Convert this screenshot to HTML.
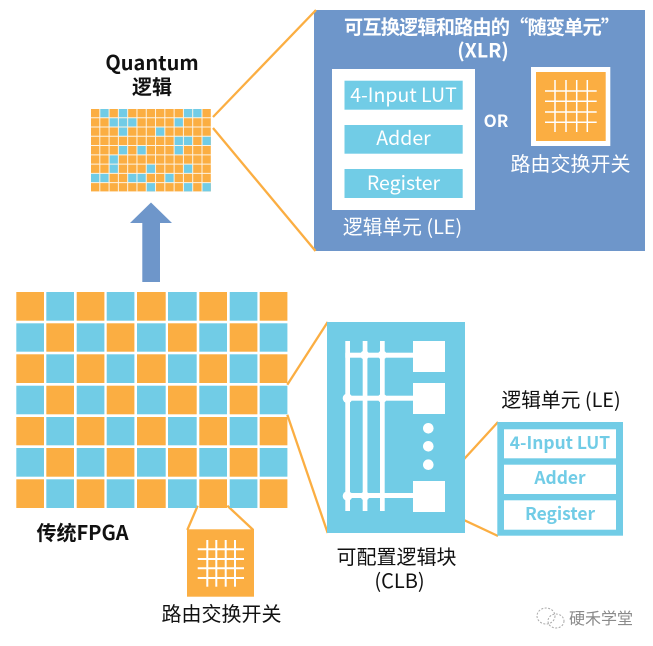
<!DOCTYPE html>
<html><head><meta charset="utf-8">
<style>
html,body{margin:0;padding:0;background:#fff;width:653px;height:646px;overflow:hidden}
svg{display:block}
text{font-family:"Noto Sans CJK SC","Liberation Sans",sans-serif;text-anchor:middle}
.b{font-weight:700}
</style></head><body>
<svg id="s" width="653" height="646" viewBox="0 0 653 646" xmlns="http://www.w3.org/2000/svg">
<rect width="653" height="646" fill="#fff"/>
<!-- arrow -->
<polygon points="151,202.500 172,223 160,223 160,282 142.300,282 142.300,223 130,223" fill="#6e96ca"/>
<!-- blue panel -->
<rect x="314" y="10" width="331" height="241" fill="#6e96ca"/>
<g stroke="#fbae42" stroke-width="2.300" fill="none">
<line x1="213" y1="117" x2="316" y2="10"/>
<line x1="213" y1="128" x2="315.500" y2="251"/>
<line x1="287.300" y1="384.700" x2="327.700" y2="322"/>
<line x1="287.300" y1="414.700" x2="327.700" y2="533"/>
<line x1="444" y1="481" x2="498" y2="422"/>
<line x1="444" y1="510.700" x2="498" y2="536"/>
<line x1="197.700" y1="505.700" x2="187.300" y2="530"/>
<line x1="227.300" y1="505.700" x2="253.300" y2="530"/>
</g>
<!-- quantum grid -->
<rect x="91" y="109" width="119.800" height="82.400" fill="#fbae42"/>
<g fill="#71cce6">
<rect x="99.800" y="109" width="9.300" height="8.800"/><rect x="118.400" y="109" width="9.300" height="8.800"/><rect x="183.400" y="109" width="9.300" height="8.800"/><rect x="192.700" y="109" width="9.300" height="8.800"/>
<rect x="109.100" y="117.800" width="9.300" height="9.300"/><rect x="118.400" y="117.800" width="9.300" height="9.300"/><rect x="127.700" y="117.800" width="9.300" height="9.300"/><rect x="174.100" y="117.800" width="9.300" height="9.300"/>
<rect x="118.400" y="127" width="9.300" height="9.300"/><rect x="155.500" y="127" width="9.300" height="9.300"/>
<rect x="174.100" y="136.300" width="9.300" height="9.300"/><rect x="183.400" y="136.300" width="9.300" height="9.300"/><rect x="202" y="136.300" width="8.800" height="9.300"/>
<rect x="118.400" y="145.600" width="9.300" height="9.300"/><rect x="137" y="145.600" width="9.300" height="9.300"/><rect x="174.100" y="145.600" width="9.300" height="9.300"/>
<rect x="109.100" y="154.800" width="9.300" height="9.300"/>
<rect x="109.100" y="164.100" width="9.300" height="9.300"/><rect x="146.200" y="164.100" width="9.300" height="9.300"/><rect x="183.400" y="164.100" width="9.300" height="9.300"/>
<rect x="91" y="173.300" width="8.800" height="9.300"/><rect x="99.800" y="173.300" width="9.300" height="9.300"/><rect x="127.700" y="173.300" width="9.300" height="9.300"/><rect x="137" y="173.300" width="9.300" height="9.300"/><rect x="164.800" y="173.300" width="9.300" height="9.300"/>
<rect x="146.200" y="182.600" width="9.300" height="8.800"/><rect x="183.400" y="182.600" width="9.300" height="8.800"/><rect x="202" y="182.600" width="8.800" height="8.800"/>
</g>
<g stroke="#fdf3e2" stroke-width="1">
<line x1="99.800" y1="109" x2="99.800" y2="191.400"/><line x1="109.090" y1="109" x2="109.090" y2="191.400"/><line x1="118.380" y1="109" x2="118.380" y2="191.400"/><line x1="127.670" y1="109" x2="127.670" y2="191.400"/><line x1="136.960" y1="109" x2="136.960" y2="191.400"/><line x1="146.250" y1="109" x2="146.250" y2="191.400"/><line x1="155.540" y1="109" x2="155.540" y2="191.400"/><line x1="164.830" y1="109" x2="164.830" y2="191.400"/><line x1="174.120" y1="109" x2="174.120" y2="191.400"/><line x1="183.410" y1="109" x2="183.410" y2="191.400"/><line x1="192.700" y1="109" x2="192.700" y2="191.400"/><line x1="201.990" y1="109" x2="201.990" y2="191.400"/>
<line x1="91" y1="117.780" x2="210.800" y2="117.780"/><line x1="91" y1="127.040" x2="210.800" y2="127.040"/><line x1="91" y1="136.300" x2="210.800" y2="136.300"/><line x1="91" y1="145.560" x2="210.800" y2="145.560"/><line x1="91" y1="154.820" x2="210.800" y2="154.820"/><line x1="91" y1="164.080" x2="210.800" y2="164.080"/><line x1="91" y1="173.340" x2="210.800" y2="173.340"/><line x1="91" y1="182.600" x2="210.800" y2="182.600"/>
</g>
<!-- big grid -->
<g>
<rect x="16.300" y="292" width="27.700" height="28.700" fill="#fbae42"/><rect x="46.300" y="292" width="27.700" height="28.700" fill="#71cce6"/><rect x="76.700" y="292" width="27.700" height="28.700" fill="#fbae42"/><rect x="106.700" y="292" width="27.700" height="28.700" fill="#71cce6"/><rect x="137" y="292" width="28.700" height="28.700" fill="#fbae42"/><rect x="168" y="292" width="28.700" height="28.700" fill="#71cce6"/><rect x="199.300" y="292" width="27.700" height="28.700" fill="#fbae42"/><rect x="229.700" y="292" width="27.700" height="28.700" fill="#71cce6"/><rect x="259.700" y="292" width="27.700" height="28.700" fill="#fbae42"/>
<rect x="16.300" y="323.300" width="27.700" height="28.400" fill="#71cce6"/><rect x="46.300" y="323.300" width="27.700" height="28.400" fill="#fbae42"/><rect x="76.700" y="323.300" width="27.700" height="28.400" fill="#71cce6"/><rect x="106.700" y="323.300" width="27.700" height="28.400" fill="#fbae42"/><rect x="137" y="323.300" width="28.700" height="28.400" fill="#71cce6"/><rect x="168" y="323.300" width="28.700" height="28.400" fill="#fbae42"/><rect x="199.300" y="323.300" width="27.700" height="28.400" fill="#71cce6"/><rect x="229.700" y="323.300" width="27.700" height="28.400" fill="#fbae42"/><rect x="259.700" y="323.300" width="27.700" height="28.400" fill="#71cce6"/>
<rect x="16.300" y="354.300" width="27.700" height="28.700" fill="#fbae42"/><rect x="46.300" y="354.300" width="27.700" height="28.700" fill="#71cce6"/><rect x="76.700" y="354.300" width="27.700" height="28.700" fill="#fbae42"/><rect x="106.700" y="354.300" width="27.700" height="28.700" fill="#71cce6"/><rect x="137" y="354.300" width="28.700" height="28.700" fill="#fbae42"/><rect x="168" y="354.300" width="28.700" height="28.700" fill="#71cce6"/><rect x="199.300" y="354.300" width="27.700" height="28.700" fill="#fbae42"/><rect x="229.700" y="354.300" width="27.700" height="28.700" fill="#71cce6"/><rect x="259.700" y="354.300" width="27.700" height="28.700" fill="#fbae42"/>
<rect x="16.300" y="385.700" width="27.700" height="28.600" fill="#71cce6"/><rect x="46.300" y="385.700" width="27.700" height="28.600" fill="#fbae42"/><rect x="76.700" y="385.700" width="27.700" height="28.600" fill="#71cce6"/><rect x="106.700" y="385.700" width="27.700" height="28.600" fill="#fbae42"/><rect x="137" y="385.700" width="28.700" height="28.600" fill="#71cce6"/><rect x="168" y="385.700" width="28.700" height="28.600" fill="#fbae42"/><rect x="199.300" y="385.700" width="27.700" height="28.600" fill="#71cce6"/><rect x="229.700" y="385.700" width="27.700" height="28.600" fill="#fbae42"/><rect x="259.700" y="385.700" width="27.700" height="28.600" fill="#71cce6"/>
<rect x="16.300" y="417" width="27.700" height="28.300" fill="#fbae42"/><rect x="46.300" y="417" width="27.700" height="28.300" fill="#71cce6"/><rect x="76.700" y="417" width="27.700" height="28.300" fill="#fbae42"/><rect x="106.700" y="417" width="27.700" height="28.300" fill="#71cce6"/><rect x="137" y="417" width="28.700" height="28.300" fill="#fbae42"/><rect x="168" y="417" width="28.700" height="28.300" fill="#71cce6"/><rect x="199.300" y="417" width="27.700" height="28.300" fill="#fbae42"/><rect x="229.700" y="417" width="27.700" height="28.300" fill="#71cce6"/><rect x="259.700" y="417" width="27.700" height="28.300" fill="#fbae42"/>
<rect x="16.300" y="448" width="27.700" height="28.700" fill="#71cce6"/><rect x="46.300" y="448" width="27.700" height="28.700" fill="#fbae42"/><rect x="76.700" y="448" width="27.700" height="28.700" fill="#71cce6"/><rect x="106.700" y="448" width="27.700" height="28.700" fill="#fbae42"/><rect x="137" y="448" width="28.700" height="28.700" fill="#71cce6"/><rect x="168" y="448" width="28.700" height="28.700" fill="#fbae42"/><rect x="199.300" y="448" width="27.700" height="28.700" fill="#71cce6"/><rect x="229.700" y="448" width="27.700" height="28.700" fill="#fbae42"/><rect x="259.700" y="448" width="27.700" height="28.700" fill="#71cce6"/>
<rect x="16.300" y="479.300" width="27.700" height="28.700" fill="#fbae42"/><rect x="46.300" y="479.300" width="27.700" height="28.700" fill="#71cce6"/><rect x="76.700" y="479.300" width="27.700" height="28.700" fill="#fbae42"/><rect x="106.700" y="479.300" width="27.700" height="28.700" fill="#71cce6"/><rect x="137" y="479.300" width="28.700" height="28.700" fill="#fbae42"/><rect x="168" y="479.300" width="28.700" height="28.700" fill="#71cce6"/><rect x="199.300" y="479.300" width="27.700" height="28.700" fill="#fbae42"/><rect x="229.700" y="479.300" width="27.700" height="28.700" fill="#71cce6"/><rect x="259.700" y="479.300" width="27.700" height="28.700" fill="#fbae42"/>
</g>
<!-- panel contents -->
<rect x="332" y="69" width="143" height="141" fill="#fff"/>
<rect x="344.500" y="80.700" width="118.200" height="29" fill="#71cce6"/>
<rect x="344.500" y="125" width="118.200" height="28.700" fill="#71cce6"/>
<rect x="344.500" y="169" width="118.200" height="29" fill="#71cce6"/>
<rect x="531" y="67" width="79.300" height="79" fill="#fff"/>
<rect x="536" y="72" width="69.700" height="69" fill="#fbae42"/>
<g stroke="#fff" stroke-width="1.500">
<line x1="555" y1="80" x2="555" y2="132"/><line x1="566" y1="80" x2="566" y2="132"/><line x1="576.700" y1="80" x2="576.700" y2="132"/><line x1="587.300" y1="80" x2="587.300" y2="132"/>
<line x1="545" y1="91" x2="596.700" y2="91"/><line x1="545" y1="101.300" x2="596.700" y2="101.300"/><line x1="545" y1="112" x2="596.700" y2="112"/><line x1="545" y1="122.300" x2="596.700" y2="122.300"/>
</g>
<text class="b" x="482" y="34" font-size="19.200" fill="#fff" textLength="276" lengthAdjust="spacing">可互换逻辑和路由的“随变单元”</text>
<text class="b" x="483" y="57.500" font-size="19.500" fill="#fff">(XLR)</text>
<text x="403.500" y="102" font-size="19.500" fill="#fff">4-Input LUT</text>
<text x="403.500" y="145" font-size="19.500" fill="#fff">Adder</text>
<text x="403.500" y="190" font-size="19.500" fill="#fff">Register</text>
<text class="b" x="496" y="127" font-size="17" fill="#fff">OR</text>
<text x="570.500" y="171" font-size="20" fill="#fff">路由交换开关</text>
<text x="402.500" y="234" font-size="19.800" fill="#fff">逻辑单元 (LE)</text>
<!-- CLB -->
<rect x="327" y="322" width="138" height="211" fill="#71cce6"/>
<g fill="#fff">
<rect x="345.300" y="341" width="4.700" height="170"/><rect x="362.700" y="341" width="4.700" height="170"/><rect x="380" y="341" width="4.700" height="170"/>
<rect x="345.300" y="352.700" width="68" height="5"/><rect x="345.300" y="395.700" width="68" height="5"/><rect x="345.300" y="493" width="68" height="5"/>
<rect x="413" y="341" width="32" height="31"/><rect x="413" y="383" width="32" height="31"/><rect x="413" y="481" width="32" height="31"/>
<circle cx="428.300" cy="428.300" r="5.300"/><circle cx="428.300" cy="446.300" r="5.300"/><circle cx="428.300" cy="464.700" r="5.300"/>
<circle cx="364.700" cy="355" r="4.500"/><circle cx="382.300" cy="355" r="4.500"/>
<circle cx="347.500" cy="398.300" r="4.800"/><circle cx="382.300" cy="398.300" r="4.500"/>
<circle cx="347.500" cy="496" r="4.800"/><circle cx="365" cy="496" r="4.500"/>
</g>
<!-- LE -->
<rect x="497.300" y="422" width="125.700" height="113.700" fill="#71cce6"/>
<rect x="504" y="429.300" width="112" height="29" fill="#fff"/>
<rect x="504" y="464.700" width="112" height="29.300" fill="#fff"/>
<rect x="504" y="500.300" width="112" height="29.400" fill="#fff"/>
<text class="b" x="560" y="449" font-size="17.400" fill="#71cce6">4-Input LUT</text>
<text class="b" x="560" y="484" font-size="17.400" fill="#71cce6">Adder</text>
<text class="b" x="560" y="520" font-size="17.400" fill="#71cce6">Register</text>
<!-- switch -->
<rect x="187" y="529.300" width="67" height="67.400" fill="#fbae42"/>
<g stroke="#fff" stroke-width="2">
<line x1="207.300" y1="540" x2="207.300" y2="586.700"/><line x1="216.300" y1="540" x2="216.300" y2="586.700"/><line x1="225.700" y1="540" x2="225.700" y2="586.700"/><line x1="235" y1="540" x2="235" y2="586.700"/>
<line x1="197.700" y1="549.300" x2="244" y2="549.300"/><line x1="197.700" y1="559" x2="244" y2="559"/><line x1="197.700" y1="568.300" x2="244" y2="568.300"/><line x1="197.700" y1="578" x2="244" y2="578"/>
</g>
<!-- labels -->
<text class="b" x="152" y="70" font-size="20" fill="#111">Quantum</text>
<text class="b" x="152" y="94" font-size="20" fill="#111">逻辑</text>
<text class="b" x="82.500" y="540" font-size="20" fill="#111">传统FPGA</text>
<text x="396.500" y="564" font-size="20" fill="#111">可配置逻辑块</text>
<text x="399.500" y="588" font-size="20" fill="#111">(CLB)</text>
<text x="221.500" y="621" font-size="20" fill="#111">路由交换开关</text>
<text x="561" y="407" font-size="19.800" fill="#111">逻辑单元 (LE)</text>
<!-- watermark -->
<g fill="none" stroke="#aaa" stroke-width="1" stroke-dasharray="2 1.500">
<ellipse cx="546" cy="616" rx="9" ry="8"/><ellipse cx="556" cy="621" rx="8" ry="7"/>
</g>
<text x="601" y="624" font-size="16" fill="#8a8a8a">硬禾学堂</text>
</svg>
</body></html>
